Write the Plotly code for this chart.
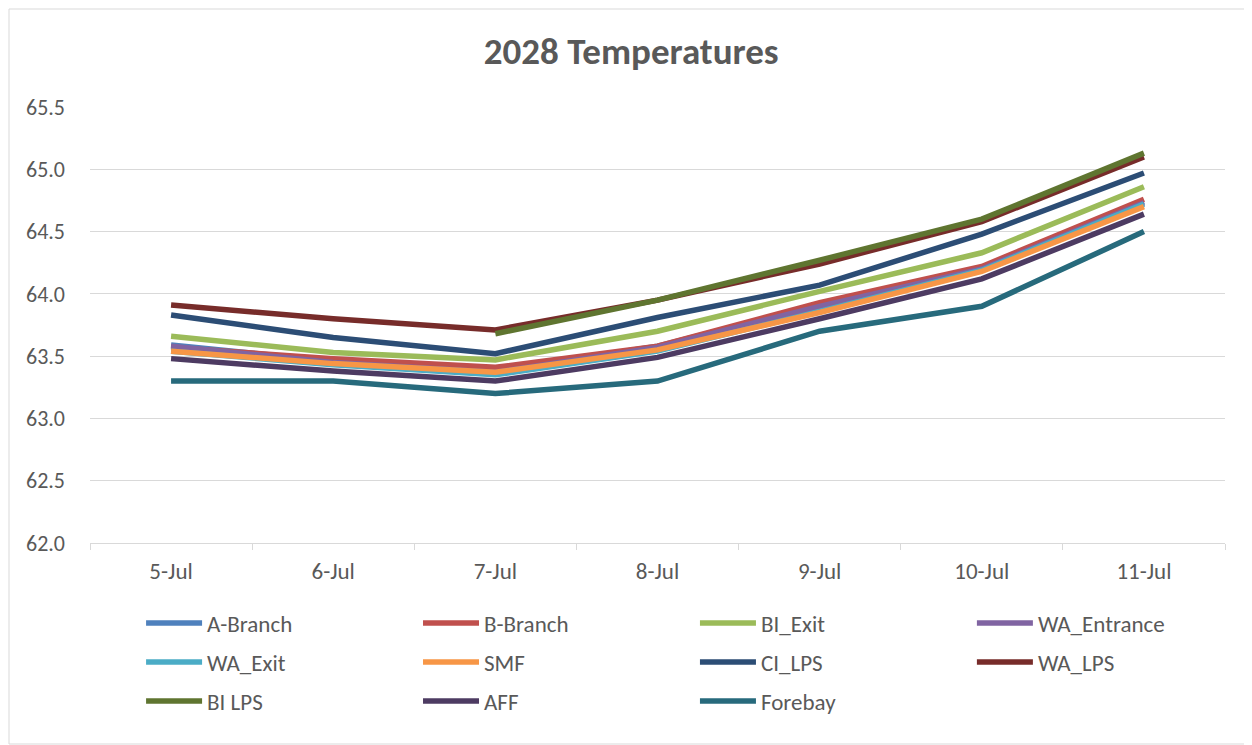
import plotly.graph_objects as go

dates = ["5-Jul", "6-Jul", "7-Jul", "8-Jul", "9-Jul", "10-Jul", "11-Jul"]

a_branch = [63.59, 63.46, 63.38, 63.58, 63.91, 64.21, 64.74]
b_branch = [63.57, 63.48, 63.41, 63.58, 63.93, 64.22, 64.76]
bi_exit = [63.66, 63.53, 63.47, 63.70, 64.02, 64.33, 64.86]
wa_entrance = [63.58, 63.45, 63.37, 63.57, 63.90, 64.20, 64.73]
wa_exit = [63.54, 63.43, 63.35, 63.54, 63.86, 64.19, 64.72]
smf = [63.54, 63.44, 63.37, 63.55, 63.85, 64.18, 64.70]
ci_lps = [63.83, 63.65, 63.52, 63.81, 64.07, 64.48, 64.97]
wa_lps = [63.91, 63.80, 63.71, 63.95, 64.24, 64.58, 65.10]
bi_lps = [None, None, 63.68, 63.95, 64.27, 64.60, 65.13]
aff = [63.48, 63.38, 63.30, 63.49, 63.80, 64.12, 64.64]
forebay = [63.30, 63.30, 63.20, 63.30, 63.70, 63.90, 64.50]

series_names = ["A-Branch", "B-Branch", "BI_Exit", "WA_Entrance", "WA_Exit", "SMF",
                "CI_LPS", "WA_LPS", "BI LPS", "AFF", "Forebay"]
series_values = [a_branch, b_branch, bi_exit, wa_entrance, wa_exit, smf,
                 ci_lps, wa_lps, bi_lps, aff, forebay]
series_colors = ["#4f81bd", "#c0504d", "#9bbb59", "#8064a2", "#4bacc6", "#f79646",
                 "#2c4d75", "#772c2a", "#5f7530", "#4d3b62", "#276a7c"]

FONT = "Carlito, 'Noto Sans', sans-serif"
GRAY = "#595959"

W, H = 1244, 737
ML, MR, MT, MB = 82, 27, 99, 202
PW = W - ML - MR
PH = H - MT - MB

# legend grid placement (4 columns, 3 rows)
col_x = [0.045 + i * 0.244 for i in range(4)]
row_y = [-0.1835, -0.273, -0.3627]

fig = go.Figure()
legends = {}
for i, (name, vals, color) in enumerate(zip(series_names, series_values, series_colors)):
    lg = "legend" if i == 0 else f"legend{i + 1}"
    fig.add_trace(go.Scatter(
        x=dates, y=vals, name=name, mode="lines",
        line=dict(color=color, width=5.5),
        legend=lg, connectgaps=False,
    ))
    legends[lg] = dict(
        orientation="h", xanchor="left", yanchor="middle",
        x=col_x[i % 4], y=row_y[i // 4],
        font=dict(family=FONT, size=23, color=GRAY),
        itemwidth=56,
        bgcolor="rgba(0,0,0,0)", itemclick=False, itemdoubleclick=False,
    )

fig.update_layout(
    width=W, height=H,
    margin=dict(l=ML, r=MR, t=MT, b=MB),
    paper_bgcolor="white", plot_bgcolor="white",
    title=dict(text="<b>2028 Temperatures</b>", x=0.501, xanchor="center",
               y=0.941, yanchor="middle",
               font=dict(family=FONT, size=37, color=GRAY)),
    font=dict(family=FONT, size=22, color=GRAY),
    xaxis=dict(
        type="category", range=[-0.5, 6.5],
        showgrid=False, showline=True, linecolor="#d9d9d9", linewidth=1,
        ticks="outside", tickson="boundaries", ticklen=6, tickcolor="#d9d9d9",
        tickfont=dict(family=FONT, size=23, color=GRAY),
        ticklabelstandoff=7,
    ),
    yaxis=dict(
        range=[62.0, 65.5], dtick=0.5, tick0=62.0, tickformat=".1f",
        showgrid=True, gridcolor="#d9d9d9", gridwidth=1,
        zeroline=False, showline=False, ticks="",
        tickfont=dict(family=FONT, size=22, color=GRAY),
        ticklabelstandoff=24,
    ),
    showlegend=True,
    shapes=[dict(type="rect", xref="paper", yref="paper",
                 x0=-(ML - 1) / PW, x1=(W - ML - 1) / PW,
                 y0=-(MB - 1) / PH, y1=(H - MB - 1) / PH,
                 line=dict(color="#d9d9d9", width=1), fillcolor="rgba(0,0,0,0)",
                 layer="below")],
    **legends,
)

fig.write_html("out.html")
